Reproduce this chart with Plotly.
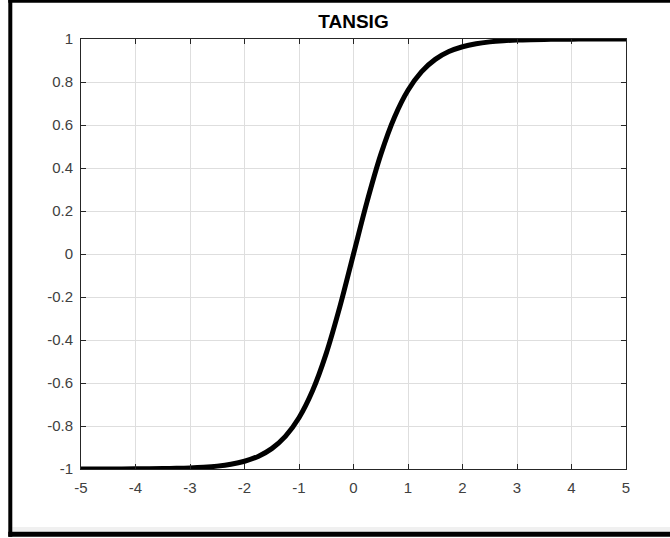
import plotly.graph_objects as go

# Values (TANSIG curve)
x_vals = [-5, -4.75, -4.5, -4.25, -4, -3.75, -3.5, -3.25, -3, -2.75, -2.5, -2.25, -2, -1.75,
          -1.5, -1.25, -1, -0.75, -0.5, -0.25, 0, 0.25, 0.5, 0.75, 1, 1.25, 1.5, 1.75, 2,
          2.25, 2.5, 2.75, 3, 3.25, 3.5, 3.75, 4, 4.25, 4.5, 4.75, 5]
y_vals = [-0.9999, -0.9999, -0.9998, -0.9996, -0.9993, -0.9989, -0.9982, -0.9970, -0.9951,
          -0.9919, -0.9866, -0.9780, -0.9640, -0.9414, -0.9051, -0.8483, -0.7616, -0.6351,
          -0.4621, -0.2449, 0.0, 0.2449, 0.4621, 0.6351, 0.7616, 0.8483, 0.9051, 0.9414,
          0.9640, 0.9780, 0.9866, 0.9919, 0.9951, 0.9970, 0.9982, 0.9989, 0.9993, 0.9996,
          0.9998, 0.9999, 0.9999]

x_ticks = [-5, -4, -3, -2, -1, 0, 1, 2, 3, 4, 5]
y_ticks = [-1, -0.8, -0.6, -0.4, -0.2, 0, 0.2, 0.4, 0.6, 0.8, 1]
y_tick_text = ["-1", "-0.8", "-0.6", "-0.4", "-0.2", "0", "0.2", "0.4", "0.6", "0.8", "1"]
title_text = "TANSIG"

W, H = 670, 538
L, R, T, B = 81, 626, 39, 469

def px(xp):
    return (xp - L) / (R - L)

def py(yp):
    return (B - yp) / (B - T)

fig = go.Figure()
fig.add_trace(go.Scatter(x=x_vals, y=y_vals, mode="lines",
                         line=dict(color="black", width=5, shape="spline"),
                         showlegend=False, hoverinfo="skip"))

axis_common = dict(
    showgrid=True, gridcolor="#dedede", gridwidth=1,
    showline=True, linecolor="#262626", linewidth=1, mirror="allticks",
    ticks="inside", ticklen=5, tickcolor="#262626", tickwidth=1,
    zeroline=False,
    tickfont=dict(family="Liberation Sans, Arial", size=15, color="#404040"),
)

fig.update_xaxes(range=[-5, 5], tickvals=x_ticks, ticktext=[str(v) for v in x_ticks],
                 ticklabelstandoff=5, **axis_common)
fig.update_yaxes(range=[-1, 1], tickvals=y_ticks, ticktext=y_tick_text,
                 ticklabelstandoff=4, **axis_common)

shapes = [
    dict(type="rect", xref="paper", yref="paper", x0=px(12.3), x1=px(671), y0=py(527), y1=py(531.7),
         fillcolor="#f0f0f0", line=dict(width=0), layer="below"),
    dict(type="rect", xref="paper", yref="paper", x0=px(8.3), x1=px(12.3), y0=py(-1), y1=py(536.7),
         fillcolor="black", line=dict(width=0)),
    dict(type="rect", xref="paper", yref="paper", x0=px(8.3), x1=px(671), y0=py(-1), y1=py(2.7),
         fillcolor="black", line=dict(width=0)),
    dict(type="rect", xref="paper", yref="paper", x0=px(8.3), x1=px(671), y0=py(531.7), y1=py(536.7),
         fillcolor="black", line=dict(width=0)),
]

fig.update_layout(
    width=W, height=H,
    margin=dict(l=L, r=W - R, t=T, b=H - B, pad=0),
    paper_bgcolor="white", plot_bgcolor="white",
    title=dict(text="<b>" + title_text + "</b>", x=(L + R) / 2 / W, xanchor="center",
               y=1 - 21.5 / H, yanchor="middle",
               font=dict(family="Liberation Sans, Arial", size=19, color="black")),
    shapes=shapes,
)

fig.write_html("out.html")
